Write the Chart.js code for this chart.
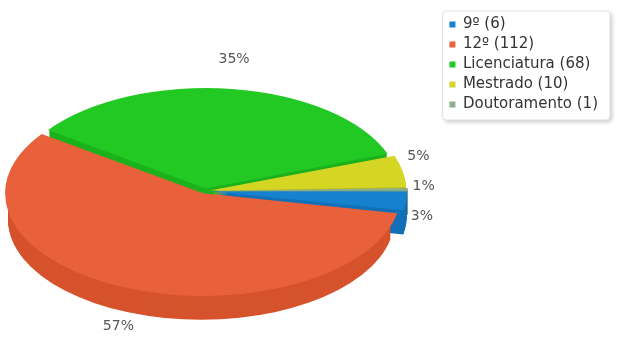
<!DOCTYPE html>
<html>
<head>
<meta charset="utf-8">
<script src="https://cdn.jsdelivr.net/npm/chart.js@4.4.0/dist/chart.umd.min.js"></script>
<style>
  html, body { margin: 0; padding: 0; background: #fff; }
  #wrap { width: 629px; height: 340px; position: relative; }
</style>
</head>
<body>
<div id="wrap"><canvas id="pie"></canvas></div>
<script>
const categories = ["9º", "12º", "Licenciatura", "Mestrado", "Doutoramento"];
const counts = [6, 112, 68, 10, 1];
const topColors = ["#1681cf", "#e8613a", "#22c923", "#d5d523", "#8bb08e"];
const sideColors = ["#1270b8", "#d6532d", "#1cb21d", "#c0c01b", "#7a9c7d"];

// ellipse the flat pie gets projected onto (screen px)
const RX = 193, RY = 100, DEPTH = 24, CX = 205, CY = 191;

const total = counts.reduce((a, b) => a + b, 0);

function scaleOf(arc) {
  return { sx: RX / arc.outerRadius, sy: RY / arc.outerRadius };
}

// same shift ArcElement.draw applies for options.offset
function explode(arc) {
  const off = (arc.options.offset || 0) / 4;
  const circ = arc.endAngle - arc.startAngle;
  const fix = 1 - Math.sin(Math.min(Math.PI, circ));
  const mid = (arc.startAngle + arc.endAngle) / 2;
  const d = off + off * fix;
  return { dx: Math.cos(mid) * d, dy: Math.sin(mid) * d, mid: mid };
}

function applyView(ctx, arc, down) {
  const s = scaleOf(arc);
  ctx.translate(CX, CY + down);
  ctx.scale(s.sx, s.sy);
  ctx.translate(-arc.x, -arc.y);
}

const pie3d = {
  id: 'pie3d',
  beforeDraw(chart) {
    const hb = chart.legend && chart.legend.legendHitBoxes;
    if (!hb || !hb.length) return;
    const ctx = chart.ctx;
    let right = 0;
    hb.forEach(h => { right = Math.max(right, h.left + h.width); });
    const left = hb[0].left - 7, top = hb[0].top - 6;
    const last = hb[hb.length - 1];
    const bottom = last.top + last.height + 8;
    right += 12;
    ctx.save();
    ctx.shadowColor = 'rgba(0,0,0,0.22)';
    ctx.shadowBlur = 4;
    ctx.shadowOffsetX = 2;
    ctx.shadowOffsetY = 2;
    ctx.fillStyle = '#fff';
    ctx.beginPath();
    ctx.roundRect(left, top, right - left, bottom - top, 4);
    ctx.fill();
    ctx.shadowColor = 'transparent';
    ctx.strokeStyle = '#e2e2e2';
    ctx.lineWidth = 1;
    ctx.stroke();
    ctx.restore();
  },
  beforeDatasetsDraw(chart) {
    const ctx = chart.ctx;
    const arcs = chart.getDatasetMeta(0).data;
    const order = arcs.map((a, i) => i)
      .sort((a, b) => Math.sin(explode(arcs[a]).mid) - Math.sin(explode(arcs[b]).mid));
    // extruded sides, back to front
    order.forEach(i => {
      const arc = arcs[i];
      const e = explode(arc);
      ctx.fillStyle = sideColors[i];
      for (let k = DEPTH; k >= 1; k--) {
        ctx.save();
        applyView(ctx, arc, k);
        ctx.translate(e.dx, e.dy);
        ctx.beginPath();
        ctx.moveTo(arc.x, arc.y);
        ctx.arc(arc.x, arc.y, arc.outerRadius, arc.startAngle, arc.endAngle);
        ctx.closePath();
        ctx.fill();
        ctx.restore();
      }
    });
    // tops are drawn by chart.js inside this transform
    ctx.save();
    applyView(ctx, arcs[0], 0);
  },
  afterDatasetsDraw(chart) {
    const ctx = chart.ctx;
    ctx.restore();
    const arcs = chart.getDatasetMeta(0).data;
    const labels = arcs.map((arc, i) => {
      const e = explode(arc), s = scaleOf(arc);
      const c = Math.cos(e.mid), sn = Math.sin(e.mid);
      return {
        text: Math.round(counts[i] / total * 100) + '%',
        x: CX + e.dx * s.sx + (RX + 16) * c,
        y: CY + e.dy * s.sy + (RY + (sn < 0 ? 30 : 18)) * sn + (sn > 0 ? DEPTH * sn : 0),
        right: c > 0
      };
    });
    // keep labels on the same side from overlapping
    [true, false].forEach(side => {
      const grp = labels.filter(l => l.right === side).sort((a, b) => a.y - b.y);
      for (let pass = 0; pass < 30; pass++) {
        for (let j = 1; j < grp.length; j++) {
          const gap = grp[j].y - grp[j - 1].y;
          if (gap < 30) {
            const p = (30 - gap) / 2;
            grp[j].y += p;
            grp[j - 1].y -= p;
          }
        }
      }
    });
    ctx.save();
    ctx.font = "14px 'DejaVu Sans'";
    ctx.fillStyle = '#555';
    ctx.textAlign = 'center';
    ctx.textBaseline = 'middle';
    labels.forEach(l => ctx.fillText(l.text, l.x, l.y));
    ctx.restore();
  }
};

new Chart(document.getElementById('pie'), {
  type: 'pie',
  data: {
    labels: categories.map((c, i) => c + ' (' + counts[i] + ')'),
    datasets: [{
      data: counts,
      backgroundColor: topColors,
      borderWidth: 0,
      offset: 16,
      hoverOffset: 0,
      clip: false
    }]
  },
  options: {
    responsive: true,
    maintainAspectRatio: false,
    animation: false,
    events: [],
    rotation: 90,
    layout: { padding: { top: 12, right: 21, left: 0, bottom: 0 } },
    plugins: {
      tooltip: { enabled: false },
      legend: {
        position: 'right',
        align: 'start',
        labels: {
          boxWidth: 6,
          boxHeight: 6,
          padding: 5,
          color: '#333',
          font: { family: "'DejaVu Sans'", size: 15 }
        }
      }
    }
  },
  plugins: [pie3d]
});
</script>
</body>
</html>
